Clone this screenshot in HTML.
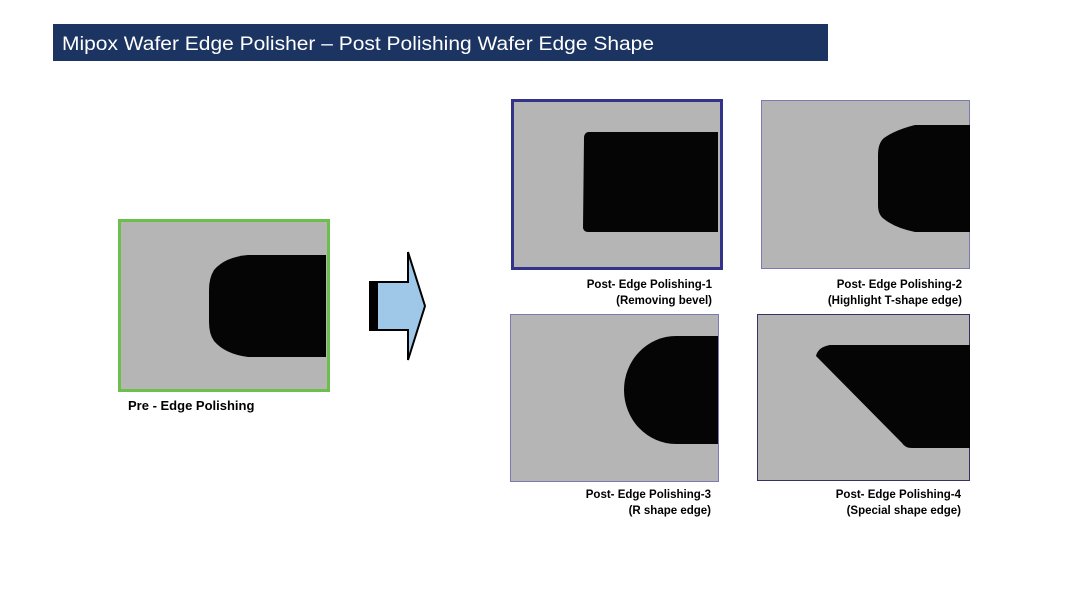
<!DOCTYPE html>
<html><head><meta charset="utf-8"><style>
html,body{margin:0;padding:0;background:#fff;width:1092px;height:613px;overflow:hidden}
svg{display:block}
text{font-family:"Liberation Sans",sans-serif}
.l{font-size:11.5px;font-weight:bold;fill:#000}
</style></head><body>
<svg width="1092" height="613" viewBox="0 0 1092 613">
<rect x="53" y="24" width="775" height="37" fill="#1c3461"/>
<text x="62" y="50" font-size="19" fill="#fff" textLength="592" lengthAdjust="spacingAndGlyphs">Mipox Wafer Edge Polisher – Post Polishing Wafer Edge Shape</text>

<!-- Pre -->
<rect x="119.5" y="220.5" width="209" height="170" fill="#b5b5b5" stroke="#6cbf4b" stroke-width="3"/>
<path d="M326 255 L248 255 Q225 257 214 270 Q209 278 209 290 L209 322 Q209 334 214 341 Q225 354 248 357 L326 357 Z" fill="#050505"/>
<text x="128" y="410" font-size="13" font-weight="bold">Pre - Edge Polishing</text>

<!-- Arrow -->
<path d="M370 282 L408 282 L408 252 L425 306 L408 360 L408 330 L370 330 Z" fill="#9fc8e8" stroke="#000" stroke-width="2"/>
<rect x="370" y="282" width="8" height="48" fill="#000"/>

<!-- 1 -->
<rect x="512.5" y="100.5" width="209" height="168" fill="#b5b5b5" stroke="#33338a" stroke-width="3"/>
<path d="M718 132 L588 132 Q584 133 584 138 L583 228 Q584 232 588 232 L718 232 Z" fill="#050505"/>
<text class="l" x="712" y="288" text-anchor="end">Post- Edge Polishing-1</text>
<text class="l" x="712" y="304" text-anchor="end">(Removing bevel)</text>

<!-- 2 -->
<rect x="761.5" y="100.5" width="208" height="168" fill="#b5b5b5" stroke="#7a7ab0" stroke-width="1"/>
<path d="M970 125 L915 125 Q895 130 884 138 Q878 143 878 155 L878 205 Q878 215 884 219 Q895 228 915 232 L970 232 Z" fill="#050505"/>
<text class="l" x="962" y="288" text-anchor="end">Post- Edge Polishing-2</text>
<text class="l" x="962" y="304" text-anchor="end">(Highlight T-shape edge)</text>

<!-- 3 -->
<rect x="510.5" y="314.5" width="208" height="167" fill="#b5b5b5" stroke="#7a7ab0" stroke-width="1"/>
<path d="M718 336 L676 336 A52 54 0 0 0 676 444 L718 444 Z" fill="#050505"/>
<text class="l" x="711" y="498" text-anchor="end">Post- Edge Polishing-3</text>
<text class="l" x="711" y="514" text-anchor="end">(R shape edge)</text>

<!-- 4 -->
<rect x="757.5" y="314.5" width="212" height="166" fill="#b5b5b5" stroke="#333366" stroke-width="1"/>
<path d="M970 345 L830 345 Q818 347 816 356 L902 443 Q905 448 912 448 L970 448 Z" fill="#050505"/>
<text class="l" x="961" y="498" text-anchor="end">Post- Edge Polishing-4</text>
<text class="l" x="961" y="514" text-anchor="end">(Special shape edge)</text>
</svg>
</body></html>
